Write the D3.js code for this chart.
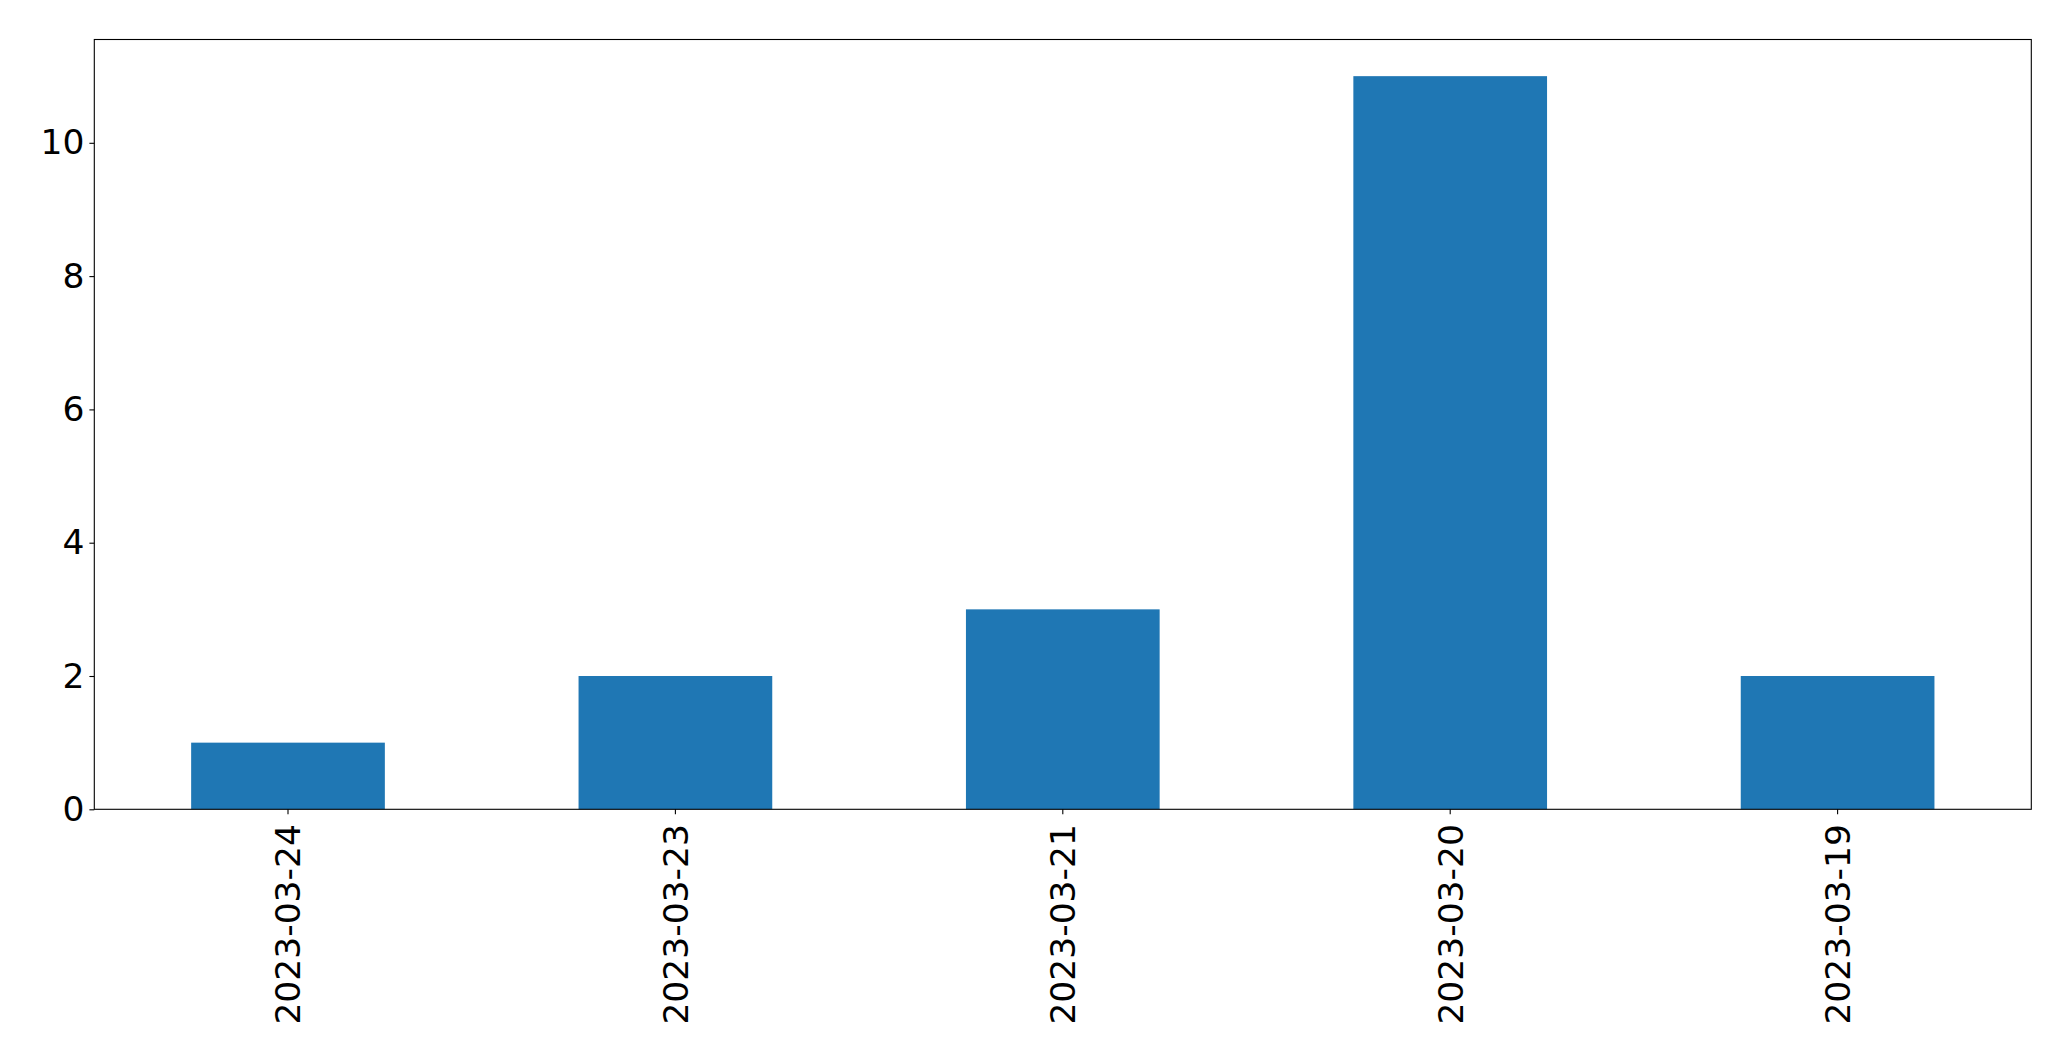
<!DOCTYPE html>
<html>
<head>
<meta charset="utf-8">
<script src="https://cdn.jsdelivr.net/npm/d3@7"></script>
<style>
  html, body { margin: 0; padding: 0; background: #fff; }
  svg { display: block; }
  text { font-family: "DejaVu Sans", sans-serif; fill: #000; }
</style>
</head>
<body>
<svg id="chart" width="2071" height="1061"></svg>
<script>
const categories = ["2023-03-24", "2023-03-23", "2023-03-21", "2023-03-20", "2023-03-19"];
const values = [1, 2, 3, 11, 2];
const yTicks = [0, 2, 4, 6, 8, 10];

const W = 2071, H = 1061;
const margin = { left: 94.3, right: W - 2031.3, top: 39.5, bottom: H - 809.3 };
const fontSize = 34.5;
const tickLen = 4.9;
const pad = 4.9;

const svg = d3.select("#chart");
const x = d3.scaleBand().domain(categories).range([margin.left, W - margin.right]).paddingInner(0.5).paddingOuter(0.25);
const yMax = d3.max(values) * 1.05;
const y = d3.scaleLinear().domain([0, yMax]).range([H - margin.bottom, margin.top]);

// bars
svg.append("g").selectAll("rect").data(values).join("rect")
  .attr("x", (d, i) => x(categories[i]))
  .attr("width", x.bandwidth())
  .attr("y", d => y(d))
  .attr("height", d => y(0) - y(d))
  .attr("fill", "#1f77b4");

// y axis
const yAxis = d3.axisLeft(y).tickValues(yTicks).tickSize(tickLen).tickPadding(pad).tickFormat(d3.format("d"));
const gy = svg.append("g").attr("transform", `translate(${margin.left},0)`).call(yAxis);
gy.select(".domain").remove();
gy.selectAll("line").attr("stroke", "#000").attr("stroke-width", 1.1);
gy.selectAll("text").attr("font-size", fontSize).attr("font-family", "DejaVu Sans").attr("fill", "#000");

// x axis
const xAxis = d3.axisBottom(x).tickSize(tickLen).tickPadding(pad);
const gx = svg.append("g").attr("transform", `translate(0,${H - margin.bottom})`).call(xAxis);
gx.select(".domain").remove();
gx.selectAll("line").attr("stroke", "#000").attr("stroke-width", 1.1);
gx.selectAll("text")
  .attr("font-size", fontSize).attr("font-family", "DejaVu Sans").attr("fill", "#000")
  .attr("transform", `translate(0,${tickLen + pad + 5}) rotate(-90)`)
  .attr("x", 0).attr("y", 0).attr("dy", "0.36em")
  .attr("text-anchor", "end");

// frame
svg.append("rect")
  .attr("x", margin.left).attr("y", margin.top)
  .attr("width", W - margin.left - margin.right)
  .attr("height", H - margin.top - margin.bottom)
  .attr("fill", "none").attr("stroke", "#000").attr("stroke-width", 1.1);
</script>
</body>
</html>
